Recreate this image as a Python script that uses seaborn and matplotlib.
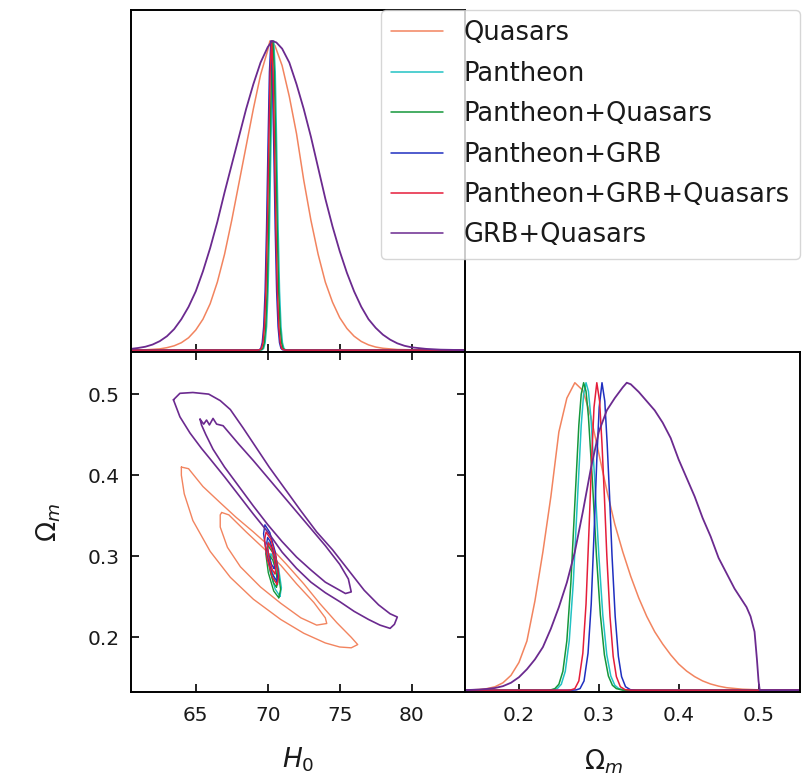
import matplotlib
matplotlib.use("Agg")
import matplotlib.pyplot as plt
from matplotlib.lines import Line2D
import seaborn as sns

# ---------------------------------------------------------------- data
labels = ["Quasars", "Pantheon", "Pantheon+Quasars", "Pantheon+GRB",
          "Pantheon+GRB+Quasars", "GRB+Quasars"]
colors = ["#f2845f", "#22c2c4", "#15973a", "#1f2fc0", "#e51d3a", "#6b2a8f"]

H0_LIM = (60.5, 83.7)
OM_LIM = (0.1325, 0.552)

# 1D marginal of H0 (peak normalised to 1)
h0_quasars = [60.5, 61.5, 62.5, 63.0, 63.5, 64.0, 64.5, 65.0, 65.5, 66.0, 66.5, 67.0,
              67.5, 68.0, 68.5, 69.0, 69.5, 70.0, 70.15, 70.5, 71.0, 71.5, 72.0, 72.5,
              73.0, 73.5, 74.0, 74.5, 75.0, 75.5, 76.0, 76.5, 77.0, 77.5, 78.0, 79.0,
              80.0, 81.0, 83.7]
p_h0_quasars = [0.0, 0.001, 0.004, 0.008, 0.014, 0.024, 0.04, 0.065, 0.10, 0.15, 0.22,
                0.31, 0.42, 0.54, 0.66, 0.78, 0.89, 0.97, 1.0, 0.985, 0.92, 0.82, 0.70,
                0.55, 0.42, 0.31, 0.22, 0.155, 0.105, 0.07, 0.045, 0.028, 0.017, 0.01,
                0.006, 0.002, 0.001, 0.0, 0.0]

h0_grbq = [60.5, 61.0, 61.5, 62.0, 62.5, 63.0, 63.5, 64.0, 64.5, 65.0, 65.5, 66.0,
           66.5, 67.0, 67.5, 68.0, 68.5, 69.0, 69.5, 70.0, 70.3, 70.6, 71.0, 71.5,
           72.0, 72.5, 73.0, 73.5, 74.0, 74.5, 75.0, 75.5, 76.0, 76.5, 77.0, 77.5,
           78.0, 78.5, 79.0, 79.5, 80.0, 81.0, 82.0, 83.7]
p_h0_grbq = [0.004, 0.007, 0.011, 0.018, 0.029, 0.045, 0.068, 0.10, 0.14, 0.19, 0.255,
             0.33, 0.415, 0.51, 0.60, 0.69, 0.78, 0.86, 0.93, 0.98, 1.0, 0.995, 0.975,
             0.93, 0.86, 0.78, 0.69, 0.59, 0.49, 0.40, 0.32, 0.25, 0.19, 0.14, 0.10,
             0.072, 0.05, 0.034, 0.022, 0.014, 0.009, 0.004, 0.0015, 0.0]

p_h0_narrow = [0.0, 0.0, 0.0014, 0.006, 0.024, 0.076, 0.19, 0.395, 0.66, 0.90, 1.0,
               0.90, 0.66, 0.395, 0.19, 0.076, 0.024, 0.006, 0.0014, 0.0, 0.0]
h0_pantheon = [60.5, 69.42, 69.62, 69.72, 69.82, 69.92, 70.02, 70.12, 70.22, 70.32,
               70.42, 70.52, 70.62, 70.72, 70.82, 70.92, 71.02, 71.12, 71.22, 71.42, 83.7]
h0_pan_q = [60.5, 69.36, 69.56, 69.66, 69.76, 69.86, 69.96, 70.06, 70.16, 70.26,
            70.36, 70.46, 70.56, 70.66, 70.76, 70.86, 70.96, 71.06, 71.16, 71.36, 83.7]
h0_pan_grb = [60.5, 69.22, 69.42, 69.52, 69.62, 69.72, 69.82, 69.92, 70.02, 70.12,
              70.22, 70.32, 70.42, 70.52, 70.62, 70.72, 70.82, 70.92, 71.02, 71.22, 83.7]
h0_pan_grb_q = [60.5, 69.27, 69.47, 69.57, 69.67, 69.77, 69.87, 69.97, 70.07, 70.17,
                70.27, 70.37, 70.47, 70.57, 70.67, 70.77, 70.87, 70.97, 71.07, 71.27, 83.7]

# 1D marginal of Omega_m (peak normalised to 1)
om_quasars = [0.1325, 0.15, 0.16, 0.17, 0.18, 0.19, 0.20, 0.21, 0.22, 0.23, 0.24, 0.25,
              0.26, 0.27, 0.28, 0.29, 0.30, 0.31, 0.32, 0.33, 0.34, 0.35, 0.36, 0.37,
              0.38, 0.39, 0.40, 0.41, 0.42, 0.43, 0.44, 0.45, 0.46, 0.48, 0.50, 0.552]
p_om_quasars = [0.0, 0.002, 0.005, 0.011, 0.024, 0.048, 0.09, 0.16, 0.29, 0.45, 0.63,
                0.84, 0.95, 1.0, 0.975, 0.89, 0.77, 0.65, 0.54, 0.45, 0.37, 0.30, 0.24,
                0.19, 0.15, 0.115, 0.085, 0.062, 0.044, 0.03, 0.02, 0.013, 0.008,
                0.003, 0.001, 0.0]

om_pan_q = [0.1325, 0.235, 0.24, 0.245, 0.25, 0.255, 0.26, 0.265, 0.27, 0.275, 0.278,
            0.281, 0.284, 0.287, 0.292, 0.297, 0.302, 0.307, 0.312, 0.317, 0.322,
            0.33, 0.552]
om_pantheon = [0.1325, 0.238, 0.243, 0.248, 0.253, 0.258, 0.263, 0.268, 0.273, 0.278,
               0.281, 0.284, 0.287, 0.290, 0.295, 0.300, 0.305, 0.310, 0.315, 0.320,
               0.325, 0.333, 0.552]
p_om_pan = [0.0, 0.0, 0.001, 0.005, 0.019, 0.061, 0.161, 0.348, 0.607, 0.862, 0.963,
            1.0, 0.972, 0.89, 0.68, 0.44, 0.244, 0.115, 0.046, 0.016, 0.005, 0.0, 0.0]

om_pan_grb_q = [0.1325, 0.26, 0.265, 0.27, 0.275, 0.28, 0.284, 0.288, 0.291, 0.294,
                0.2975, 0.301, 0.304, 0.307, 0.310, 0.314, 0.318, 0.322, 0.327, 0.333,
                0.34, 0.552]
om_pan_grb = [0.1325, 0.2665, 0.2715, 0.2765, 0.2815, 0.2865, 0.2905, 0.2945, 0.2975,
              0.3005, 0.304, 0.3075, 0.3105, 0.3135, 0.3165, 0.3205, 0.3245, 0.3285,
              0.3335, 0.3395, 0.3465, 0.552]
p_om_grb = [0.0, 0.0, 0.0007, 0.005, 0.03, 0.12, 0.28, 0.54, 0.75, 0.92, 1.0, 0.94,
            0.80, 0.63, 0.44, 0.24, 0.11, 0.044, 0.011, 0.0015, 0.0, 0.0]

om_grbq = [0.1325, 0.15, 0.16, 0.17, 0.18, 0.19, 0.20, 0.21, 0.22, 0.23, 0.24, 0.25,
           0.26, 0.27, 0.28, 0.29, 0.30, 0.31, 0.32, 0.33, 0.335, 0.34, 0.35, 0.36,
           0.37, 0.38, 0.39, 0.40, 0.41, 0.42, 0.43, 0.44, 0.45, 0.46, 0.47, 0.48,
           0.485, 0.49, 0.495, 0.498, 0.500, 0.5015, 0.552]
p_om_grbq = [0.0, 0.002, 0.004, 0.007, 0.013, 0.024, 0.042, 0.068, 0.10, 0.14, 0.20,
             0.27, 0.35, 0.45, 0.58, 0.72, 0.84, 0.91, 0.95, 0.985, 1.0, 0.995, 0.97,
             0.94, 0.91, 0.87, 0.82, 0.75, 0.69, 0.63, 0.56, 0.50, 0.43, 0.38, 0.33,
             0.29, 0.27, 0.24, 0.19, 0.10, 0.03, 0.0, 0.0]

# 2D credible contours (H0, Omega_m), closed paths; outer = 95%, inner = 68%
grbq_out_h0 = [63.45, 63.9, 64.8, 65.9, 66.7, 67.4, 68.3, 69.2, 70.1, 71.2, 72.3, 73.4,
               74.5, 75.6, 76.7, 77.7, 78.5, 79.0, 78.8, 78.5, 77.8, 77.0, 76.0, 75.0,
               74.0, 73.0, 72.0, 71.0, 70.0, 69.0, 68.0, 67.0, 66.0, 65.4, 64.6, 63.9, 63.45]
grbq_out_om = [0.493, 0.501, 0.502, 0.500, 0.492, 0.481, 0.458, 0.434, 0.410, 0.383,
               0.356, 0.330, 0.308, 0.283, 0.258, 0.240, 0.229, 0.225, 0.216, 0.211,
               0.215, 0.222, 0.232, 0.244, 0.255, 0.268, 0.285, 0.305, 0.330, 0.352,
               0.375, 0.398, 0.420, 0.433, 0.452, 0.472, 0.493]
grbq_in_h0 = [65.3, 65.55, 65.75, 65.95, 66.2, 66.45, 66.9, 68.0, 69.0, 70.0, 71.0, 72.0,
              73.0, 74.0, 75.0, 75.6, 75.8, 75.4, 75.0, 74.0, 73.0, 72.0, 71.0, 70.0,
              69.0, 68.0, 67.0, 66.2, 65.7, 65.4, 65.3]
grbq_in_om = [0.469, 0.463, 0.468, 0.462, 0.470, 0.463, 0.461, 0.438, 0.418, 0.397,
              0.376, 0.355, 0.334, 0.313, 0.290, 0.272, 0.256, 0.254, 0.258, 0.268,
              0.283, 0.299, 0.318, 0.339, 0.362, 0.386, 0.410, 0.432, 0.450, 0.462, 0.469]

quasars_out_h0 = [64.0, 64.5, 65.5, 66.7, 67.8, 69.0, 70.2, 71.3, 72.5, 73.6, 74.8,
                  75.8, 76.25, 75.8, 75.0, 74.0, 72.5, 70.9, 69.0, 67.4, 66.0, 64.8,
                  64.2, 64.0, 64.0]
quasars_out_om = [0.410, 0.408, 0.386, 0.366, 0.348, 0.330, 0.311, 0.290, 0.266, 0.242,
                  0.218, 0.200, 0.191, 0.187, 0.188, 0.193, 0.205, 0.222, 0.247, 0.274,
                  0.306, 0.344, 0.377, 0.400, 0.410]
quasars_in_h0 = [66.8, 67.3, 68.5, 69.7, 70.9, 72.0, 73.2, 74.0, 74.1, 73.4, 72.3, 70.9,
                 69.5, 68.1, 67.2, 66.7, 66.7, 66.8]
quasars_in_om = [0.354, 0.351, 0.330, 0.310, 0.289, 0.266, 0.243, 0.224, 0.217, 0.215,
                 0.224, 0.242, 0.262, 0.287, 0.311, 0.336, 0.351, 0.354]

pan_out_h0 = [70.851, 70.950, 70.756, 70.383, 70.049, 69.950, 70.144, 70.517, 70.851]
pan_out_om = [0.2505, 0.2611, 0.2851, 0.3085, 0.3176, 0.3069, 0.2829, 0.2595, 0.2505]
pan_in_h0 = [70.679, 70.732, 70.620, 70.408, 70.221, 70.168, 70.280, 70.492, 70.679]
pan_in_om = [0.2648, 0.2709, 0.2846, 0.2980, 0.3032, 0.2971, 0.2834, 0.2700, 0.2648]

panq_out_h0 = [70.767, 70.894, 70.720, 70.347, 69.993, 69.866, 70.040, 70.413, 70.767]
panq_out_om = [0.2487, 0.2590, 0.2823, 0.3048, 0.3134, 0.3030, 0.2797, 0.2572, 0.2487]
panq_in_h0 = [70.609, 70.677, 70.571, 70.353, 70.151, 70.083, 70.189, 70.407, 70.609]
panq_in_om = [0.2618, 0.2680, 0.2817, 0.2951, 0.3002, 0.2940, 0.2803, 0.2670, 0.2618]

pang_out_h0 = [70.635, 70.730, 70.526, 70.143, 69.805, 69.710, 69.913, 70.297, 70.635]
pang_out_om = [0.2693, 0.2802, 0.3051, 0.3294, 0.3388, 0.3278, 0.3029, 0.2786, 0.2693]
pang_in_h0 = [70.449, 70.502, 70.390, 70.178, 69.991, 69.938, 70.050, 70.262, 70.449]
pang_in_om = [0.2848, 0.2909, 0.3046, 0.3180, 0.3232, 0.3171, 0.3034, 0.2900, 0.2848]

pangq_out_h0 = [70.657, 70.760, 70.576, 70.213, 69.883, 69.780, 69.964, 70.327, 70.657]
pangq_out_om = [0.2652, 0.2754, 0.2986, 0.3212, 0.3299, 0.3196, 0.2964, 0.2738, 0.2652]
pangq_in_h0 = [70.499, 70.552, 70.440, 70.228, 70.041, 69.988, 70.100, 70.312, 70.499]
pangq_in_om = [0.2783, 0.2844, 0.2981, 0.3115, 0.3167, 0.3106, 0.2969, 0.2835, 0.2783]

# ---------------------------------------------------------------- figure
sns.set_style("white")
plt.rcParams["font.family"] = ["DejaVu Sans"]
plt.rcParams["mathtext.fontset"] = "dejavusans"
for key in ("text.color", "axes.labelcolor", "xtick.color", "ytick.color"):
    plt.rcParams[key] = "#1a1a1a"

fig = plt.figure(figsize=(8.12, 7.82), dpi=100)
ax_h0 = fig.add_axes([0.1613, 0.5499, 0.4113, 0.4373])
ax_2d = fig.add_axes([0.1613, 0.1151, 0.4113, 0.4348])
ax_om = fig.add_axes([0.5727, 0.1151, 0.4126, 0.4348])

LW = 1.1


def line(ax, x, y, color, lw=LW):
    sns.lineplot(x=x, y=y, ax=ax, color=color, lw=lw, sort=False,
                 estimator=None, legend=False)


# H0 marginals
line(ax_h0, h0_quasars, p_h0_quasars, colors[0])
line(ax_h0, h0_pantheon, p_h0_narrow, colors[1])
line(ax_h0, h0_pan_q, p_h0_narrow, colors[2])
line(ax_h0, h0_pan_grb, p_h0_narrow, colors[3])
line(ax_h0, h0_pan_grb_q, p_h0_narrow, colors[4])
line(ax_h0, h0_grbq, p_h0_grbq, colors[5], lw=1.3)

# Omega_m marginals
line(ax_om, om_quasars, p_om_quasars, colors[0])
line(ax_om, om_pantheon, p_om_pan, colors[1])
line(ax_om, om_pan_q, p_om_pan, colors[2])
line(ax_om, om_pan_grb, p_om_grb, colors[3])
line(ax_om, om_pan_grb_q, p_om_grb, colors[4])
line(ax_om, om_grbq, p_om_grbq, colors[5], lw=1.3)

# joint contours
line(ax_2d, quasars_out_h0, quasars_out_om, colors[0], lw=1.0)
line(ax_2d, quasars_in_h0, quasars_in_om, colors[0], lw=1.0)
line(ax_2d, pan_out_h0, pan_out_om, colors[1], lw=1.0)
line(ax_2d, pan_in_h0, pan_in_om, colors[1], lw=1.0)
line(ax_2d, panq_out_h0, panq_out_om, colors[2], lw=1.0)
line(ax_2d, panq_in_h0, panq_in_om, colors[2], lw=1.0)
line(ax_2d, pang_out_h0, pang_out_om, colors[3], lw=1.0)
line(ax_2d, pang_in_h0, pang_in_om, colors[3], lw=1.0)
line(ax_2d, pangq_out_h0, pangq_out_om, colors[4], lw=1.0)
line(ax_2d, pangq_in_h0, pangq_in_om, colors[4], lw=1.0)
line(ax_2d, grbq_out_h0, grbq_out_om, colors[5], lw=1.2)
line(ax_2d, grbq_in_h0, grbq_in_om, colors[5], lw=1.2)

# ---------------------------------------------------------------- axes
for ax in (ax_h0, ax_2d, ax_om):
    for sp in ax.spines.values():
        sp.set_visible(True)
        sp.set_color("black")
        sp.set_linewidth(1.4)
    ax.set_xlabel("")
    ax.set_ylabel("")

ticks_h0 = [65, 70, 75, 80]
ticks_om = [0.2, 0.3, 0.4, 0.5]

ax_h0.set_xlim(*H0_LIM)
ax_h0.set_ylim(-0.006, 1.1)
ax_h0.set_xticks(ticks_h0)
ax_h0.set_yticks([])
ax_h0.tick_params(axis="x", direction="in", length=6, width=1.2, color="black",
                  labelbottom=False, bottom=True)

ax_2d.set_xlim(*H0_LIM)
ax_2d.set_ylim(*OM_LIM)
ax_2d.set_xticks(ticks_h0)
ax_2d.set_yticks(ticks_om)
ax_2d.set_yticklabels(["0.2", "0.3", "0.4", "0.5"])
ax_2d.tick_params(direction="in", length=6, width=1.2, color="black",
                  labelsize=14.5, top=True, right=True, bottom=True, left=True)
ax_2d.tick_params(axis="x", pad=10)
ax_2d.tick_params(axis="y", pad=8)

ax_om.set_xlim(*OM_LIM)
ax_om.set_ylim(-0.006, 1.1)
ax_om.set_xticks(ticks_om)
ax_om.set_xticklabels(["0.2", "0.3", "0.4", "0.5"])
ax_om.set_yticks([])
ax_om.tick_params(axis="x", direction="in", length=6, width=1.2, color="black",
                  labelsize=14.5, pad=10, bottom=True)

ax_2d.set_xlabel(r"$H_0$", fontsize=19, labelpad=15)
ax_2d.set_ylabel(r"$\Omega_m$", fontsize=19, labelpad=18)
ax_om.set_xlabel(r"$\Omega_m$", fontsize=19)
ax_om.xaxis.set_label_coords(0.415, -0.163)

handles = [Line2D([0], [0], color=c, lw=1.1) for c in colors]
fig.legend(handles, labels, loc="upper right", bbox_to_anchor=(0.985, 0.987),
           borderaxespad=0.0, fontsize=18.5, frameon=True, framealpha=0.8,
           edgecolor="#cccccc", fancybox=True, labelspacing=0.56)

fig.savefig("out.png", dpi=100)
